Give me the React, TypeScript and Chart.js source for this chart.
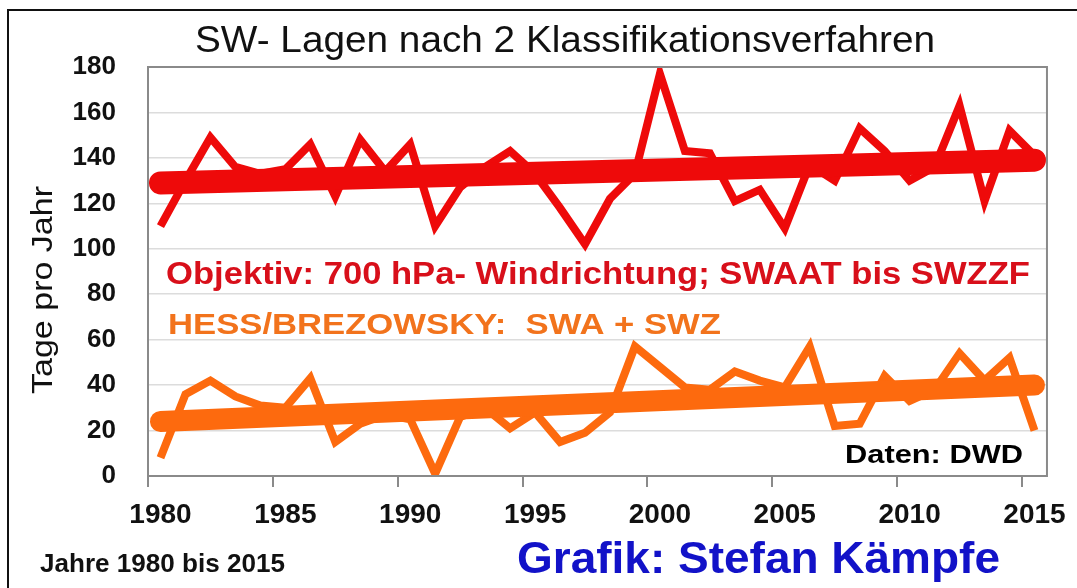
import React, { useEffect, useRef } from "react";
import { Chart, registerables } from "chart.js";
Chart.register(...registerables);

const years = [
  "1980","1981","1982","1983","1984","1985","1986","1987","1988","1989",
  "1990","1991","1992","1993","1994","1995","1996","1997","1998","1999",
  "2000","2001","2002","2003","2004","2005","2006","2007","2008","2009",
  "2010","2011","2012","2013","2014","2015",
];
const xTickLabels = ["1980", "1985", "1990", "1995", "2000", "2005", "2010", "2015"];

// Objektiv: 700 hPa wind direction, SWAAT..SWZZF (days per year)
const objektiv = [
  110, 130, 149, 136, 133, 135, 146, 123, 148, 134,
  146, 110, 127, 136, 143, 133, 118, 102, 122, 133,
  177, 143, 142, 121, 126, 109, 137, 130, 153, 143,
  130, 136, 163, 121, 152, 141,
];
// Hess/Brezowsky: SWA + SWZ (days per year)
const hess = [
  8, 36, 42, 35, 31, 30, 43, 15, 23, 27,
  25, 1, 26, 30, 21, 28, 15, 19, 28, 57,
  48, 39, 38, 46, 42, 39, 57, 22, 23, 44,
  33, 38, 54, 42, 52, 20,
];
// linear trend end points (1980, 2015)
const objektivTrend = [129, 139];
const hessTrend = [24, 40];

const yMin = 0;
const yMax = 180;
const yStep = 20;

const FONT = '"Liberation Sans", Arial, Helvetica, sans-serif';

function trendSeries(ends: number[]) {
  return years.map((_, i) => (i === 0 ? ends[0] : i === years.length - 1 ? ends[1] : null));
}

function fitText(
  ctx: CanvasRenderingContext2D,
  text: string,
  x: number,
  y: number,
  size: number,
  weight: string,
  color: string,
  width: number
) {
  ctx.save();
  ctx.font = `${weight} ${size}px ${FONT}`;
  const w = ctx.measureText(text).width;
  ctx.translate(x, y);
  ctx.scale(width / w, 1);
  ctx.fillStyle = color;
  ctx.textAlign = "left";
  ctx.textBaseline = "alphabetic";
  ctx.fillText(text, 0, 0);
  ctx.restore();
}

const decorPlugin = {
  id: "decor",
  beforeDraw(chart: any) {
    const ctx = chart.ctx as CanvasRenderingContext2D;
    ctx.save();
    ctx.fillStyle = "#ffffff";
    ctx.fillRect(0, 0, chart.width, chart.height);
    ctx.strokeStyle = "#111111";
    ctx.lineWidth = 2;
    ctx.beginPath();
    ctx.moveTo(8, 600);
    ctx.lineTo(8, 10);
    ctx.lineTo(1077, 10);
    ctx.stroke();
    ctx.restore();
  },
  afterDatasetsDraw(chart: any) {
    const ctx = chart.ctx as CanvasRenderingContext2D;
    const a = chart.chartArea;
    ctx.save();
    ctx.strokeStyle = "#8a8a8a";
    ctx.lineWidth = 2;
    ctx.strokeRect(a.left, a.top, a.right - a.left, a.bottom - a.top);
    ctx.restore();

    fitText(ctx, "SW- Lagen nach 2 Klassifikationsverfahren", 195, 52, 36, "normal", "#111111", 740);
    fitText(ctx, "Objektiv: 700 hPa- Windrichtung; SWAAT bis SWZZF", 166, 284, 32, "bold", "#d80f1a", 864);
    fitText(ctx, "HESS/BREZOWSKY:  SWA + SWZ", 168, 334, 30, "bold", "#f2731c", 553);
    fitText(ctx, "Daten: DWD", 845, 463, 26, "bold", "#000000", 178);
    fitText(ctx, "Jahre 1980 bis 2015", 40, 572, 26, "bold", "#111111", 245);
    fitText(ctx, "Grafik: Stefan Kämpfe", 517, 573, 45, "bold", "#1212c8", 483);

    ctx.save();
    ctx.translate(52, 290);
    ctx.rotate(-Math.PI / 2);
    ctx.font = `normal 29px ${FONT}`;
    const w = ctx.measureText("Tage pro Jahr").width;
    ctx.scale(208 / w, 1);
    ctx.fillStyle = "#111111";
    ctx.textAlign = "center";
    ctx.textBaseline = "alphabetic";
    ctx.fillText("Tage pro Jahr", 0, 0);
    ctx.restore();
  },
};

export default function App() {
  const ref = useRef<HTMLCanvasElement | null>(null);
  useEffect(() => {
    if (!ref.current) return;
    const chart = new Chart(ref.current, {
      type: "line",
      data: {
        labels: years,
        datasets: [
          {
            label: "Trend Objektiv",
            data: trendSeries(objektivTrend),
            borderColor: "#ee0a0a",
            borderWidth: 23,
            borderCapStyle: "round",
            pointRadius: 0,
            spanGaps: true,
          },
          {
            label: "Trend Hess/Brezowsky",
            data: trendSeries(hessTrend),
            borderColor: "#fd6a0e",
            borderWidth: 21,
            borderCapStyle: "round",
            pointRadius: 0,
            spanGaps: true,
          },
          {
            label: "Objektiv",
            data: objektiv,
            borderColor: "#ee0a0a",
            borderWidth: 8,
            borderJoinStyle: "miter",
            pointRadius: 0,
          },
          {
            label: "Hess/Brezowsky",
            data: hess,
            borderColor: "#fd6a0e",
            borderWidth: 8,
            borderJoinStyle: "miter",
            pointRadius: 0,
          },
        ],
      },
      options: {
        animation: false,
        responsive: false,
        events: [],
        layout: { padding: { left: 0, top: 67, right: 27, bottom: 0 } },
        plugins: {
          legend: { display: false },
          title: { display: false },
          tooltip: { enabled: false },
        },
        scales: {
          x: {
            type: "category",
            offset: true,
            afterFit: (s: any) => {
              s.height = 112;
            },
            grid: {
              offset: true,
              drawOnChartArea: false,
              drawTicks: true,
              tickLength: 11,
              lineWidth: 2,
              color: (c: any) => (c.index % 5 === 0 ? "#8a8a8a" : "rgba(0,0,0,0)"),
            },
            border: { display: false },
            ticks: {
              autoSkip: false,
              maxRotation: 0,
              minRotation: 0,
              padding: 11,
              color: "#111111",
              font: { family: FONT, size: 28, weight: "bold" },
              callback: (_v: any, i: number) => (xTickLabels.includes(years[i]) ? years[i] : ""),
            },
          },
          y: {
            min: yMin,
            max: yMax,
            afterFit: (s: any) => {
              s.width = 148;
            },
            grid: {
              color: "#dcdcdc",
              lineWidth: 1.5,
              drawTicks: false,
            },
            border: { display: false },
            ticks: {
              stepSize: yStep,
              padding: 32,
              color: "#111111",
              font: { family: FONT, size: 26, weight: "bold" },
            },
          },
        },
      },
      plugins: [decorPlugin],
    } as any);
    return () => chart.destroy();
  }, []);
  return (
    <div style={{ position: "absolute", left: 0, top: 0, width: 1077, height: 588 }}>
      <canvas ref={ref} width={1077} height={588} style={{ width: 1077, height: 588 }} />
    </div>
  );
}
